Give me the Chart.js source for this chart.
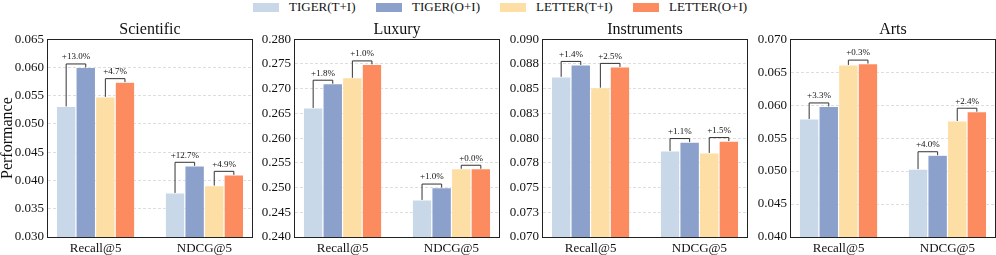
<!DOCTYPE html>
<html>
<head>
<meta charset="utf-8">
<script src="https://cdn.jsdelivr.net/npm/chart.js@4.4.1/dist/chart.umd.min.js"></script>
<style>
  body { margin: 0; background: #fff; width: 996px; height: 255px; position: relative; overflow: hidden; }
  .panel { position: absolute; top: 17px; height: 238px; }
  .legend-item { position: absolute; top: 0; height: 14px; display: flex; align-items: center; font-family: 'Liberation Serif', 'Times New Roman', serif; font-size: 13px; color: #111; white-space: nowrap; }
  .legend-item span.box { display: inline-block; width: 26px; height: 9px; margin-right: 10px; }
</style>
</head>
<body>
<div id="legend"></div>
<div class="panel" style="left:0px;width:253px"><canvas id="c0"></canvas></div>
<div class="panel" style="left:253px;width:247px"><canvas id="c1"></canvas></div>
<div class="panel" style="left:500px;width:248px"><canvas id="c2"></canvas></div>
<div class="panel" style="left:748px;width:248px"><canvas id="c3"></canvas></div>
<script>
// categories and series
var categories = ['Recall@5', 'NDCG@5'];
var seriesNames = ['TIGER(T+I)', 'TIGER(O+I)', 'LETTER(T+I)', 'LETTER(O+I)'];
var seriesColors = ['rgb(200,216,232)', 'rgb(139,160,203)', 'rgb(253,222,164)', 'rgb(252,140,96)'];

// values per panel, one row per series: [Recall@5, NDCG@5]
var scientific = [[0.0531, 0.0378], [0.0600, 0.0426], [0.0548, 0.0391], [0.0574, 0.0410]];
var luxury = [[0.2661, 0.2475], [0.2710, 0.2500], [0.2722, 0.2538], [0.2749, 0.2538]];
var instruments = [[0.0862, 0.0787], [0.0874, 0.0796], [0.0851, 0.0785], [0.0872, 0.0797]];
var arts = [[0.0579, 0.0503], [0.0598, 0.0524], [0.0661, 0.0576], [0.0663, 0.0590]];

// gain labels per category: [TIGER pair, LETTER pair]
var scientificGains = [['+13.0%', '+4.7%'], ['+12.7%', '+4.9%']];
var luxuryGains = [['+1.8%', '+1.0%'], ['+1.0%', '+0.0%']];
var instrumentsGains = [['+1.4%', '+2.5%'], ['+1.1%', '+1.5%']];
var artsGains = [['+3.3%', '+0.3%'], ['+4.0%', '+2.4%']];

// y tick values and labels
var scientificTicks = [0.030, 0.035, 0.040, 0.045, 0.050, 0.055, 0.060, 0.065];
var scientificLabels = ['0.030', '0.035', '0.040', '0.045', '0.050', '0.055', '0.060', '0.065'];
var luxuryTicks = [0.240, 0.245, 0.250, 0.255, 0.260, 0.265, 0.270, 0.275, 0.280];
var luxuryLabels = ['0.240', '0.245', '0.250', '0.255', '0.260', '0.265', '0.270', '0.275', '0.280'];
var instrumentsTicks = [0.0700, 0.0725, 0.0750, 0.0775, 0.0800, 0.0825, 0.0850, 0.0875, 0.0900];
var instrumentsLabels = ['0.070', '0.073', '0.075', '0.078', '0.080', '0.083', '0.085', '0.088', '0.090'];
var artsTicks = [0.040, 0.045, 0.050, 0.055, 0.060, 0.065, 0.070];
var artsLabels = ['0.040', '0.045', '0.050', '0.055', '0.060', '0.065', '0.070'];

var panels = [
  { id: 'c0', title: 'Scientific', values: scientific, gains: scientificGains, ticks: scientificTicks, labels: scientificLabels, axisWidth: 47, yTitle: 'Performance' },
  { id: 'c1', title: 'Luxury', values: luxury, gains: luxuryGains, ticks: luxuryTicks, labels: luxuryLabels, axisWidth: 41 },
  { id: 'c2', title: 'Instruments', values: instruments, gains: instrumentsGains, ticks: instrumentsTicks, labels: instrumentsLabels, axisWidth: 42 },
  { id: 'c3', title: 'Arts', values: arts, gains: artsGains, ticks: artsTicks, labels: artsLabels, axisWidth: 42 }
];

var serif = "'Liberation Serif', 'Times New Roman', serif";
Chart.defaults.font.family = serif;
Chart.defaults.color = '#111';

// legend
var legendLeft = [253, 376, 500, 633];
var legend = document.getElementById('legend');
for (var s = 0; s < seriesNames.length; s++) {
  var item = document.createElement('div');
  item.className = 'legend-item';
  item.style.left = legendLeft[s] + 'px';
  item.innerHTML = '<span class="box" style="background:' + seriesColors[s] + '"></span>' + seriesNames[s];
  legend.appendChild(item);
}

// box frame + gain brackets
var framePlugin = {
  id: 'frame',
  afterDatasetsDraw: function(chart) {
    var ctx = chart.ctx;
    var a = chart.chartArea;
    var gains = chart.options.plugins.frame.gains;
    ctx.save();
    ctx.strokeStyle = '#333';
    ctx.lineWidth = 1;
    ctx.font = '9px ' + serif;
    ctx.fillStyle = '#111';
    ctx.textAlign = 'center';
    ctx.textBaseline = 'middle';
    var pairs = [[0, 1], [2, 3]];
    for (var i = 0; i < categories.length; i++) {
      for (var p = 0; p < pairs.length; p++) {
        var e1 = chart.getDatasetMeta(pairs[p][0]).data[i];
        var e2 = chart.getDatasetMeta(pairs[p][1]).data[i];
        var yb = Math.min(e1.y, e2.y) - 3.5;
        ctx.beginPath();
        ctx.moveTo(e1.x, e1.y);
        ctx.lineTo(e1.x, yb);
        ctx.lineTo(e2.x, yb);
        ctx.lineTo(e2.x, e2.y);
        ctx.stroke();
        ctx.fillText(gains[i][p], (e1.x + e2.x) / 2, yb - 7);
      }
    }
    ctx.strokeStyle = '#222';
    ctx.strokeRect(Math.round(a.left) + 0.5, Math.round(a.top) + 0.5, Math.round(a.right - a.left) - 1, Math.round(a.bottom - a.top));
    ctx.restore();
  }
};

panels.forEach(function(panel) {
  var datasets = [];
  for (var s = 0; s < seriesNames.length; s++) {
    datasets.push({
      label: seriesNames[s],
      data: categories.map(function(c, i) { return { x: i, y: panel.values[s][i] }; }),
      backgroundColor: seriesColors[s],
      borderColor: '#fff',
      borderWidth: 0.6,
      categoryPercentage: 0.72,
      barPercentage: 1.0
    });
  }
  var yMin = panel.ticks[0], yMax = panel.ticks[panel.ticks.length - 1];
  new Chart(document.getElementById(panel.id), {
    type: 'bar',
    data: { datasets: datasets },
    plugins: [framePlugin],
    options: {
      responsive: true,
      maintainAspectRatio: false,
      animation: false,
      layout: { padding: 0 },
      plugins: {
        legend: { display: false },
        tooltip: { enabled: false },
        title: {
          display: true,
          text: panel.title,
          fullSize: false,
          color: '#111',
          font: { family: serif, size: 16, weight: 'normal', lineHeight: 1.2 },
          padding: { top: 3, bottom: 0 }
        },
        frame: { gains: panel.gains }
      },
      scales: {
        x: {
          type: 'linear',
          offset: false,
          min: -0.446,
          max: 1.446,
          grid: { display: false, drawTicks: false, offset: false },
          border: { display: true, color: '#222', width: 1 },
          afterBuildTicks: function(scale) {
            scale.ticks = categories.map(function(c, i) { return { value: i }; });
          },
          afterFit: function(scale) { scale.height = 18; },
          ticks: {
            padding: 4,
            color: '#111',
            font: { family: serif, size: 13 },
            callback: function(v) { return categories[v]; }
          }
        },
        y: {
          min: yMin,
          max: yMax,
          grid: { color: '#d4d4d4', lineWidth: 0.8, drawTicks: false },
          border: { display: true, color: '#222', width: 1, dash: [3, 2] },
          afterBuildTicks: function(scale) {
            scale.ticks = panel.ticks.map(function(v) { return { value: v }; });
          },
          afterFit: function(scale) { scale.width = panel.axisWidth; },
          ticks: {
            padding: 3,
            color: '#111',
            font: { family: serif, size: 13 },
            callback: function(v, idx) { return panel.labels[idx]; }
          },
          title: {
            display: !!panel.yTitle,
            text: panel.yTitle || '',
            color: '#111',
            font: { family: serif, size: 16, lineHeight: 1.0 },
            padding: { top: 0, bottom: 0 }
          }
        }
      }
    }
  });
});
</script>
</body>
</html>
